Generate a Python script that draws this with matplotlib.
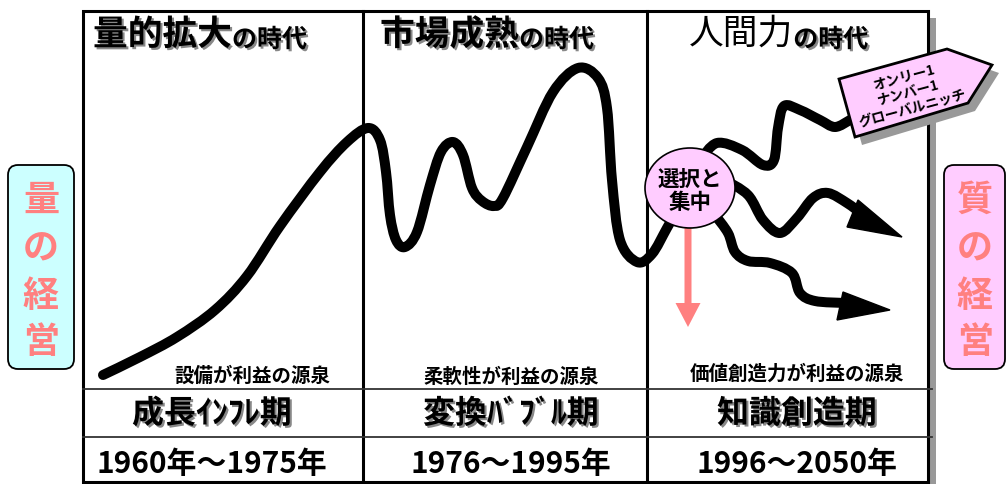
import numpy as np
import matplotlib.pyplot as plt
import matplotlib.patheffects as pe
from matplotlib.path import Path
from matplotlib.patches import PathPatch, Polygon, Rectangle, Ellipse, FancyBboxPatch, FancyArrow

plt.rcParams['font.family'] = ['Noto Sans CJK JP', 'DejaVu Sans']

# --- contents (pixel units, y downwards) ---
era_titles = ['量的拡大', '市場成熟', '人間力']
era_sources = ['設備が利益の源泉', '柔軟性が利益の源泉', '価値創造力が利益の源泉']
era_names = ['成長ｲﾝﾌﾚ期', '変換ﾊﾞﾌﾞﾙ期', '知識創造期']
era_years = ['1960年～1975年', '1976～1995年', '1996～2050年']
left_label = ['量', 'の', '経', '営']
right_label = ['質', 'の', '経', '営']
circle_text = '選択と\n集中'
sign_text = 'オンリー1\nナンバー1\nグローバルニッチ'

# main trend line (growth -> bubble -> knowledge)
main_x = [103, 140, 177, 215, 247, 280, 320, 347, 368, 380, 386, 390, 396, 405, 417,
          430, 441, 453, 463, 472, 482, 494, 503, 527, 553, 578, 598, 607, 612,
          620, 637, 652, 667, 680]
main_y = [375, 357, 337, 310, 276, 226, 172, 142, 128, 140, 172, 215, 240, 247, 232,
          185, 152, 142, 155, 188, 201, 206, 198, 147, 92, 68, 78, 108, 180,
          240, 262, 254, 228, 205]
# three branches after 選択と集中
top_x = [700, 717, 742, 763, 774, 778, 784, 800, 820, 835, 850]
top_y = [160, 143, 150, 165, 160, 128, 106, 110, 120, 127, 120]
mid_x = [725, 748, 763, 780, 797, 813, 828, 847, 862]
mid_y = [180, 195, 220, 233, 218, 198, 193, 203, 214]
low_x = [715, 728, 735, 748, 770, 792, 800, 815, 845]
low_y = [215, 233, 252, 261, 263, 273, 293, 301, 303]
mid_head = [(858, 200), (847, 227), (902, 237)]
low_head = [(843, 292), (837, 320), (890, 310)]
sign_shape = [(839, 79), (947, 49), (992, 65), (968, 103), (855, 137)]

# --- layout ---
frame_l, frame_r, frame_t, frame_b = 83, 928, 11, 482
dividers = [363, 647]
row_lines = [389, 437]
col_centers = [212, 511, 797]
title_left = [93, 380, 689]
pink = '#ffccff'
cyan = '#ccffff'
salmon = '#ff8080'
shade = '#999999'


def smooth_path(xs, ys):
    # Catmull-Rom waypoints -> cubic bezier path
    pts = np.column_stack([xs, ys]).astype(float)
    p = np.vstack([pts[0], pts, pts[-1]])
    verts = [pts[0]]
    codes = [Path.MOVETO]
    for i in range(1, len(p) - 2):
        c1 = p[i] + (p[i + 1] - p[i - 1]) / 6
        c2 = p[i + 1] - (p[i + 2] - p[i]) / 6
        verts += [c1, c2, p[i + 1]]
        codes += [Path.CURVE4] * 3
    return Path(verts, codes)


fig = plt.figure(figsize=(10.07, 4.84), dpi=100)
ax = fig.add_axes([0, 0, 1, 1])
ax.set_xlim(0, 1007)
ax.set_ylim(484, 0)
ax.axis('off')

shadow = [pe.withSimplePatchShadow(offset=(1.5, -1.5), shadow_rgbFace='#888888', alpha=1)]

# frame + table
ax.add_patch(Rectangle((frame_r, frame_t + 7), 8, 484 - frame_t - 7, color=shade, lw=0))
ax.add_patch(Rectangle((frame_l, frame_t), frame_r - frame_l, frame_b - frame_t,
                       fill=False, ec='black', lw=2.2, zorder=3))
for xd in dividers:
    ax.plot([xd, xd], [frame_t, frame_b], color='black', lw=2.2, zorder=3)
for yl in row_lines:
    ax.plot([frame_l, frame_r + 4], [yl, yl], color='#333333', lw=1.3, zorder=3)

# era titles
for i, t in enumerate(era_titles):
    w = 'normal' if i == 2 else 'bold'
    t1 = ax.text(title_left[i], 52, t, fontsize=25, fontweight=w, va='bottom', ha='left',
                 path_effects=None if i == 2 else shadow)
    ax.annotate('の時代', xy=(1, 0), xycoords=t1, va='bottom', ha='left',
                fontsize=18, fontweight='bold', path_effects=shadow)

# table texts
src_y = [376, 377, 374]
for i in range(3):
    ax.text(col_centers[i] + (40 if i == 0 else 0), src_y[i], era_sources[i], fontsize=14,
            fontweight='bold', ha='center', va='center')
    ax.text(col_centers[i], 414, era_names[i], fontsize=23, fontweight='bold',
            ha='center', va='center', path_effects=shadow)
    ax.text(col_centers[i], 464, era_years[i], fontsize=21.5, fontweight='bold',
            ha='center', va='center')

# curves
for xs, ys in [(main_x, main_y), (top_x, top_y), (mid_x, mid_y), (low_x, low_y)]:
    ax.add_patch(PathPatch(smooth_path(xs, ys), fill=False, ec='black', lw=7.2,
                           capstyle='round', joinstyle='round', zorder=4))
for head in [mid_head, low_head]:
    ax.add_patch(Polygon(head, closed=True, fc='black', ec='black', lw=1, zorder=4))

# sign post
ax.add_patch(Polygon([(x + 7, y + 8) for x, y in sign_shape], closed=True,
                     fc=shade, ec='none', zorder=5))
ax.add_patch(Polygon(sign_shape, closed=True, fc=pink, ec='black', lw=2, zorder=6))
ax.text(908, 93, sign_text, rotation=15, rotation_mode='anchor', fontsize=10,
        fontweight='bold', ha='center', va='center', linespacing=1.25, zorder=7)

# pink arrow down + circle
ax.add_patch(FancyArrow(688, 225, 0, 102, width=7, head_width=25, head_length=24,
                        length_includes_head=True, color=salmon, lw=0, zorder=5))
ax.add_patch(Ellipse((690, 188), 90, 80, fc=pink, ec='black', lw=1.2, zorder=6))
ax.text(690, 191, circle_text, fontsize=15.5, fontweight='bold', ha='center',
        va='center', linespacing=1.1, zorder=7)

# side labels
for (bx, bw, fc, chars, cx) in [(8, 66, cyan, left_label, 41),
                                (944, 61, pink, right_label, 975)]:
    ax.add_patch(FancyBboxPatch((bx, 165), bw, 204, boxstyle='round,pad=0,rounding_size=10',
                                fc=fc, ec='black', lw=1.3, zorder=2))
    for ch, cy in zip(chars, [200, 249, 297, 343]):
        ax.text(cx, cy, ch, fontsize=26, fontweight='bold', color=salmon,
                ha='center', va='center', zorder=3)

fig.savefig('out.png', dpi=100)
